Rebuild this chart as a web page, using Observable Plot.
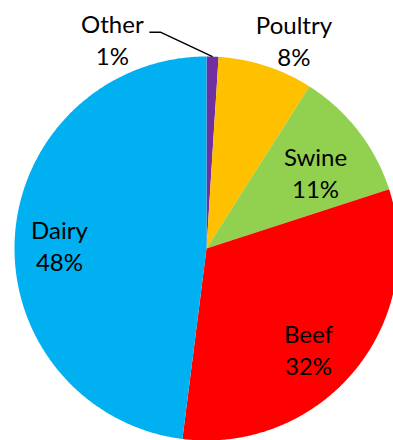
<!DOCTYPE html>
<html>
<head>
<meta charset="utf-8">
<script src="https://cdn.jsdelivr.net/npm/d3@7"></script>
<script src="https://cdn.jsdelivr.net/npm/@observablehq/plot@0.6"></script>
<style>
  html, body { margin: 0; padding: 0; background: #fff; }
  #chart svg { display: block; }
</style>
</head>
<body>
<div id="chart"></div>
<script>
// Data (clockwise from 12 o'clock)
const categories = ["Other", "Poultry", "Swine", "Beef", "Dairy"];
const percents = [1, 8, 11, 32, 48];
const colors = ["#7030A0", "#FFC000", "#92D050", "#FF0000", "#00B0F0"];

// Layout (pixels of the 393x440 frame)
const W = 393, H = 440, CX = 206, CY = 248, R = 192;
// label placement: radius (in pie radii) and angle nudge (deg) from slice mid-angle
const labelLayout = {
  Other:   {r: 1.196, da: -26.0},
  Poultry: {r: 1.180, da: 4.7},
  Swine:   {r: 0.695, da: 2.6},
  Beef:    {r: 0.746, da: 5.0},
  Dairy:   {r: 0.766, da: -2.3}
};

const total = d3.sum(percents);
const toXY = (deg, r) => {
  const a = deg * Math.PI / 180;
  return [r * Math.sin(a), r * Math.cos(a)];
};

// Build slice polygons from cumulative angles
const slicePts = [];
const labels = [];
let cum = 0;
categories.forEach((c, i) => {
  const a0 = cum / total * 360;
  cum += percents[i];
  const a1 = cum / total * 360;
  slicePts.push({cat: c, x: 0, y: 0});
  const n = Math.max(2, Math.ceil((a1 - a0) / 0.5));
  for (let k = 0; k <= n; k++) {
    const [x, y] = toXY(a0 + (a1 - a0) * k / n, 1);
    slicePts.push({cat: c, x, y});
  }
  slicePts.push({cat: c, x: 0, y: 0});
  const mid = (a0 + a1) / 2;
  const L = labelLayout[c];
  const [lx, ly] = toXY(mid + L.da, L.r);
  const [ax, ay] = toXY(mid, 1);
  labels.push({cat: c, text: `${c}\n${percents[i]}%`, x: lx, y: ly, ax, ay});
});

// Leader line for "Other"
const oth = labels.find(d => d.cat === "Other");
const leader = [
  {x: oth.x + 0.193, y: oth.y + 0.036},
  {x: oth.x + 0.250, y: oth.y + 0.036},
  {x: oth.ax, y: oth.ay}
];

const chart = Plot.plot({
  width: W,
  height: H,
  margin: 0,
  x: {domain: [-CX / R, (W - CX) / R], axis: null},
  y: {domain: [-(H - CY) / R, CY / R], axis: null},
  color: {domain: categories, range: colors},
  style: {fontFamily: "Lato, 'Open Sans', sans-serif", background: "#fff"},
  marks: [
    Plot.line(slicePts, {x: "x", y: "y", z: "cat", fill: "cat", stroke: "none", curve: "linear"}),
    Plot.line(leader, {x: "x", y: "y", stroke: "#000", strokeWidth: 1.5, strokeLinecap: "butt", strokeLinejoin: "miter"}),
    Plot.text(labels, {x: "x", y: "y", text: "text", fontSize: 24, lineHeight: 1.333, fill: "#000", textAnchor: "middle"})
  ]
});

document.getElementById("chart").appendChild(chart);
</script>
</body>
</html>
